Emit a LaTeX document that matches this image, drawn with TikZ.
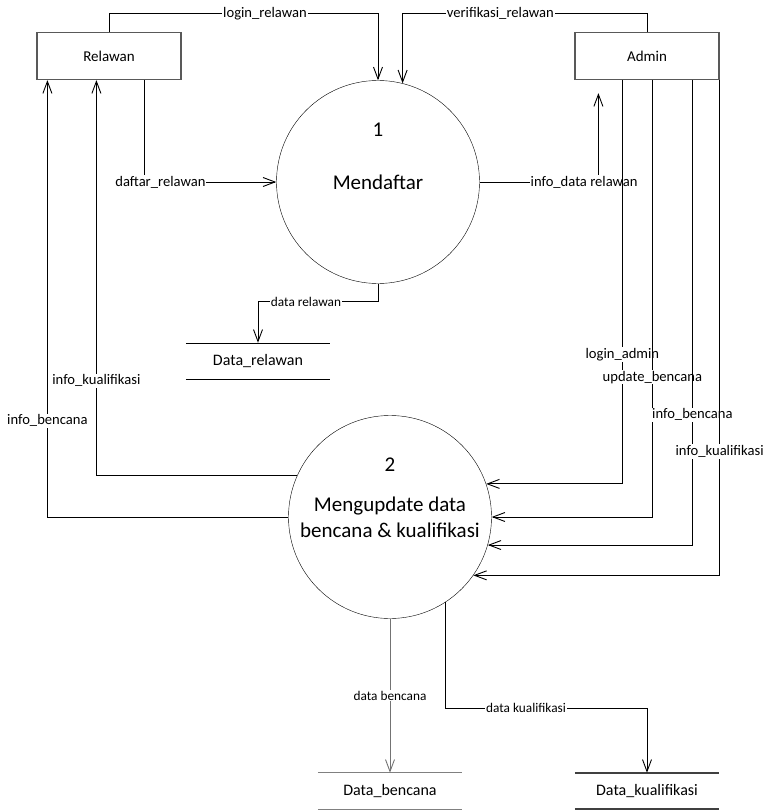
\documentclass[tikz,border=0pt]{standalone}
\usepackage{fontspec}
\setmainfont{Carlito}
\usetikzlibrary{arrows.meta}
\begin{document}
\begin{tikzpicture}[x=1pt, y=-1pt,
    entity/.style={draw=black!65, line width=1.2pt, minimum width=144pt, minimum height=47pt, inner sep=0pt, font=\fontsize{15}{18}\selectfont},
    process/.style={draw, circle, minimum size=203pt, inner sep=0pt, align=center, font=\fontsize{21}{26}\selectfont},
    procnum/.style={font=\fontsize{21}{26}\selectfont},
    store/.style={minimum width=144pt, minimum height=36pt, inner sep=0pt, font=\fontsize{16}{19}\selectfont},
    flow/.style={-{Straight Barb[length=12pt,width=9pt]}, line width=0.9pt},
    lbl/.style={fill=white, inner sep=1pt, font=\fontsize{14.6}{17}\selectfont},
    slbl/.style={fill=white, inner sep=1pt, font=\fontsize{13.3}{16}\selectfont}]
    \useasboundingbox (0,0) rectangle (772,811);

    % entities
    \node[entity] (relawan) at (109,56) {Relawan};
    \node[entity] (admin) at (647,56) {Admin};

    % processes
    \node[process] (p1) at (378,182) {Mendaftar};
    \node[procnum] (n1) at ([yshift=52pt]p1.center) {1};
    \node[process] (p2) at (390,517) {Mengupdate data\\bencana \& kualifikasi};
    \node[procnum] (n2) at ([yshift=52pt]p2.center) {2};

    % data stores
    \node[store] (dsrel) at (258,361) {Data\_relawan};
    \draw (dsrel.north west) -- (dsrel.north east) (dsrel.south west) -- (dsrel.south east);
    \node[store] (dsben) at (390,791) {Data\_bencana};
    \draw[black!50, line width=1.3pt] (dsben.north west) -- (dsben.north east) (dsben.south west) -- (dsben.south east);
    \node[store] (dskual) at (647,791) {Data\_kualifikasi};
    \draw[black!75, line width=2pt] (dskual.north west) -- (dskual.north east) (dskual.south west) -- (dskual.south east);

    % flows of process 1
    \draw[flow] (relawan.north) -- ++(0,-18) -| (p1.north) node[lbl, pos=0.29] {login\_relawan};
    \draw[flow] (admin.north) -- ++(0,-18) -| (p1.76) node[lbl, pos=0.3] {verifikasi\_relawan};
    \draw[flow] ([xshift=-37pt]relawan.south east) |- (p1.west) node[lbl, pos=0.56] {daftar\_relawan};
    \draw[flow] (p1.east) -| ([xshift=24pt,yshift=-13pt]admin.south west) node[lbl, pos=0.44] {info\_data relawan};
    \draw[flow] (p1.south) -- ++(0,18) -| (dsrel.north) node[slbl, pos=0.3] {data relawan};

    % flows of process 2
    \draw[flow] (p2.156) -| ([xshift=60pt]relawan.south west) node[lbl, pos=0.62] {info\_kualifikasi};
    \draw[flow] (p2.west) -| ([xshift=11pt]relawan.south west) node[lbl, pos=0.61] {info\_bencana};
    \draw[flow] ([xshift=48pt]admin.south west) |- (p2.19) node[lbl, pos=0.34] {login\_admin};
    \draw[flow] ([xshift=78pt]admin.south west) |- (p2.east) node[lbl, pos=0.34] {update\_bencana};
    \draw[flow] ([xshift=118pt]admin.south west) |- (p2.344) node[lbl, pos=0.36] {info\_bencana};
    \draw[flow] (admin.south east) |- (p2.325) node[lbl, pos=0.375] {info\_kualifikasi};
    \draw[flow, black!55] (p2.south) -- (dsben.north) node[slbl, text=black, pos=0.5] {data bencana};
    \draw[flow] (p2.303) -- ++(0,106) -| (dskual.north) node[slbl, pos=0.2] {data kualifikasi};

\end{tikzpicture}
\end{document}
